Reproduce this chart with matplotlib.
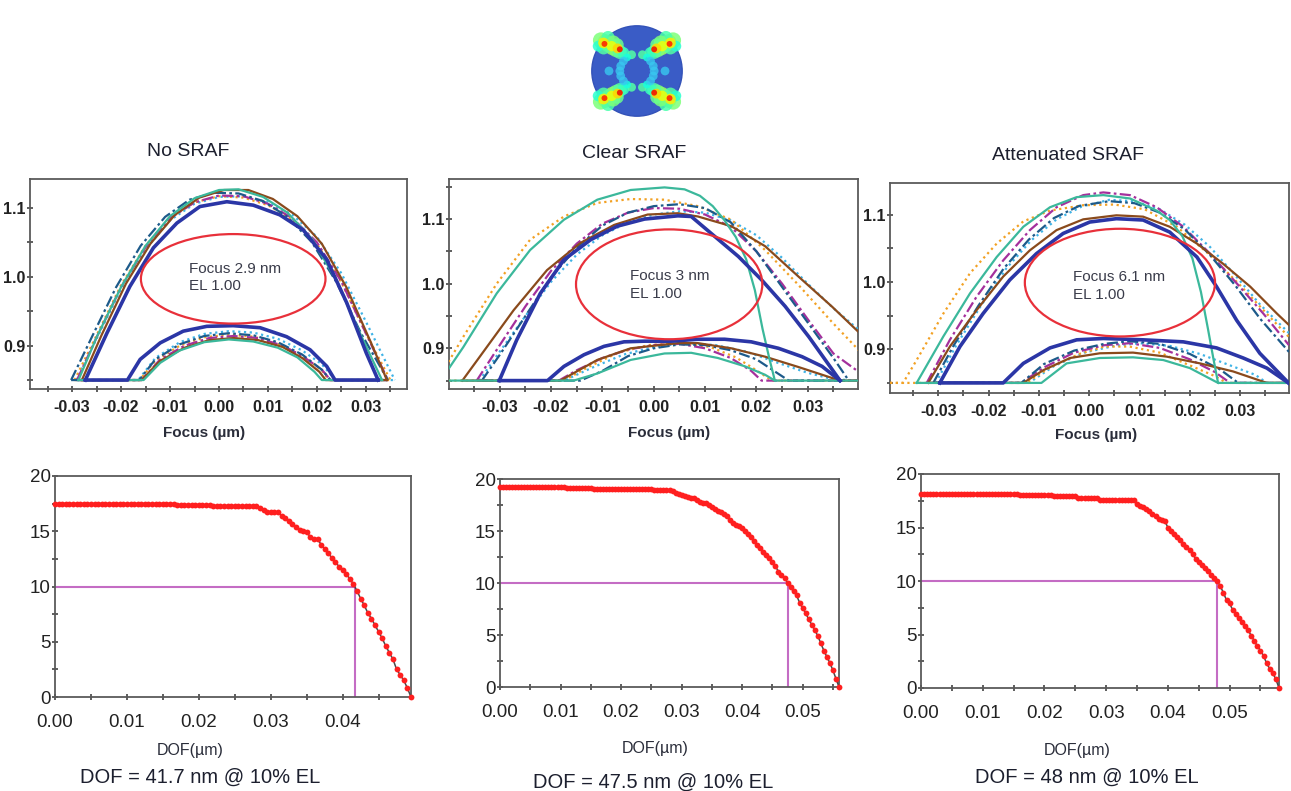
import numpy as np
import matplotlib
matplotlib.use('Agg')
import matplotlib.pyplot as plt
from matplotlib.patches import Ellipse, Circle
from matplotlib.ticker import MultipleLocator, FormatStrFormatter

plt.rcParams['font.family'] = ['Liberation Sans', 'DejaVu Sans']

# Process-window edges, (focus um, dose) pairs. "up" = upper dose edge, "lo" = lower edge
# (lower edge carries the flat 0.85 floor segments too)

# --- No SRAF ---
ns_blue_up = [(-0.0273, 0.85), (-0.0229, 0.918), (-0.0182, 0.986), (-0.0134, 1.042), (-0.0086, 1.078), (-0.0039, 1.102), (0.0016, 1.109), (0.0070, 1.104), (0.0124, 1.090), (0.0172, 1.068), (0.0220, 1.025), (0.0261, 0.962), (0.0301, 0.889), (0.0325, 0.85)]
ns_blue_lo = [(-0.0273, 0.85), (-0.0187, 0.85), (-0.0161, 0.880), (-0.0120, 0.904), (-0.0073, 0.921), (-0.0025, 0.928), (0.0029, 0.929), (0.0084, 0.926), (0.0138, 0.913), (0.0186, 0.894), (0.0220, 0.870), (0.0237, 0.85), (0.0325, 0.85)]
ns_teal_up = [(-0.0287, 0.85), (-0.0250, 0.912), (-0.0200, 0.985), (-0.0150, 1.045), (-0.0100, 1.088), (-0.0050, 1.114), (0.0000, 1.126), (0.0040, 1.127), (0.0090, 1.116), (0.0140, 1.093), (0.0190, 1.055), (0.0240, 0.995), (0.0290, 0.915), (0.0333, 0.85)]
ns_teal_lo = [(-0.0287, 0.85), (-0.0154, 0.85), (-0.0120, 0.875), (-0.0080, 0.893), (-0.0030, 0.905), (0.0020, 0.909), (0.0070, 0.906), (0.0120, 0.897), (0.0160, 0.883), (0.0195, 0.862), (0.0210, 0.85), (0.0333, 0.85)]
ns_brown_up = [(-0.0280, 0.85), (-0.0240, 0.915), (-0.0190, 0.990), (-0.0140, 1.048), (-0.0090, 1.090), (-0.0040, 1.115), (0.0010, 1.126), (0.0060, 1.126), (0.0110, 1.113), (0.0160, 1.088), (0.0210, 1.048), (0.0260, 0.985), (0.0310, 0.905), (0.0343, 0.85)]
ns_brown_lo = [(-0.0280, 0.85), (-0.0158, 0.85), (-0.0120, 0.878), (-0.0070, 0.897), (-0.0020, 0.908), (0.0030, 0.911), (0.0080, 0.908), (0.0130, 0.898), (0.0170, 0.882), (0.0205, 0.862), (0.0218, 0.85), (0.0343, 0.85)]
ns_navy_up = [(-0.0302, 0.85), (-0.0260, 0.912), (-0.0210, 0.985), (-0.0160, 1.045), (-0.0110, 1.087), (-0.0060, 1.112), (-0.0010, 1.122), (0.0040, 1.121), (0.0090, 1.110), (0.0140, 1.087), (0.0190, 1.050), (0.0240, 0.992), (0.0290, 0.918), (0.0345, 0.85)]
ns_navy_lo = [(-0.0302, 0.85), (-0.0163, 0.85), (-0.0130, 0.880), (-0.0080, 0.902), (-0.0030, 0.914), (0.0020, 0.918), (0.0070, 0.915), (0.0120, 0.905), (0.0170, 0.887), (0.0210, 0.865), (0.0228, 0.85), (0.0345, 0.85)]
ns_orange_up = [(-0.0295, 0.85), (-0.0250, 0.915), (-0.0200, 0.988), (-0.0150, 1.045), (-0.0100, 1.086), (-0.0050, 1.108), (0.0000, 1.117), (0.0050, 1.115), (0.0100, 1.104), (0.0150, 1.083), (0.0200, 1.048), (0.0250, 0.992), (0.0300, 0.918), (0.0350, 0.85)]
ns_orange_lo = [(-0.0295, 0.85), (-0.0162, 0.85), (-0.0130, 0.878), (-0.0080, 0.900), (-0.0030, 0.912), (0.0020, 0.916), (0.0070, 0.913), (0.0120, 0.903), (0.0170, 0.885), (0.0210, 0.864), (0.0225, 0.85), (0.0350, 0.85)]
ns_magenta_up = [(-0.0290, 0.85), (-0.0250, 0.912), (-0.0200, 0.985), (-0.0150, 1.043), (-0.0100, 1.085), (-0.0050, 1.108), (0.0000, 1.118), (0.0050, 1.117), (0.0100, 1.106), (0.0150, 1.085), (0.0200, 1.050), (0.0250, 0.993), (0.0300, 0.918), (0.0345, 0.85)]
ns_magenta_lo = [(-0.0290, 0.85), (-0.0158, 0.85), (-0.0120, 0.880), (-0.0070, 0.900), (-0.0020, 0.911), (0.0030, 0.914), (0.0080, 0.911), (0.0130, 0.900), (0.0170, 0.885), (0.0210, 0.865), (0.0228, 0.85), (0.0345, 0.85)]
ns_lblue_up = [(-0.0292, 0.85), (-0.0250, 0.910), (-0.0200, 0.982), (-0.0150, 1.040), (-0.0100, 1.082), (-0.0050, 1.106), (0.0000, 1.116), (0.0050, 1.117), (0.0100, 1.108), (0.0150, 1.090), (0.0200, 1.058), (0.0250, 1.005), (0.0300, 0.935), (0.0359, 0.85)]
ns_lblue_lo = [(-0.0292, 0.85), (-0.0165, 0.85), (-0.0130, 0.882), (-0.0080, 0.905), (-0.0030, 0.917), (0.0020, 0.921), (0.0070, 0.919), (0.0120, 0.910), (0.0170, 0.893), (0.0210, 0.873), (0.0238, 0.85), (0.0359, 0.85)]

# --- Clear SRAF ---
cs_blue_up = [(-0.0301, 0.85), (-0.0267, 0.913), (-0.0221, 0.985), (-0.0175, 1.037), (-0.0123, 1.068), (-0.0071, 1.089), (-0.0018, 1.100), (0.0047, 1.105), (0.0073, 1.104), (0.0119, 1.073), (0.0165, 1.042), (0.0210, 1.006), (0.0256, 0.965), (0.0302, 0.918), (0.0363, 0.85)]
cs_blue_lo = [(-0.0301, 0.85), (-0.0207, 0.85), (-0.0175, 0.872), (-0.0136, 0.890), (-0.0097, 0.903), (-0.0058, 0.910), (-0.0018, 0.911), (0.0034, 0.911), (0.0086, 0.914), (0.0138, 0.914), (0.0190, 0.910), (0.0243, 0.900), (0.0289, 0.887), (0.0328, 0.872), (0.0363, 0.85)]
cs_teal_up = [(-0.0400, 0.868), (-0.0371, 0.902), (-0.0306, 0.985), (-0.0241, 1.052), (-0.0175, 1.099), (-0.0110, 1.130), (-0.0045, 1.145), (0.0021, 1.149), (0.0060, 1.146), (0.0090, 1.136), (0.0115, 1.120), (0.0138, 1.098), (0.0160, 1.072), (0.0180, 1.038), (0.0197, 0.990), (0.0212, 0.930), (0.0225, 0.885), (0.0236, 0.85), (0.0402, 0.85)]
cs_teal_lo = [(-0.0400, 0.85), (-0.0156, 0.85), (-0.0110, 0.861), (-0.0045, 0.882), (0.0021, 0.892), (0.0073, 0.893), (0.0125, 0.885), (0.0178, 0.872), (0.0217, 0.859), (0.0236, 0.85)]
cs_brown_up = [(-0.0373, 0.85), (-0.0339, 0.887), (-0.0273, 0.959), (-0.0208, 1.021), (-0.0143, 1.063), (-0.0077, 1.091), (-0.0012, 1.107), (0.0047, 1.109), (0.0086, 1.104), (0.0151, 1.089), (0.0217, 1.058), (0.0282, 1.011), (0.0348, 0.964), (0.0402, 0.923)]
cs_brown_lo = [(-0.0373, 0.85), (-0.0182, 0.85), (-0.0110, 0.882), (-0.0045, 0.900), (0.0047, 0.908), (0.0086, 0.908), (0.0151, 0.900), (0.0217, 0.887), (0.0282, 0.871), (0.0363, 0.85), (0.0402, 0.85)]
cs_navy_up = [(-0.0335, 0.85), (-0.0300, 0.890), (-0.0250, 0.950), (-0.0200, 1.010), (-0.0150, 1.056), (-0.0100, 1.090), (-0.0050, 1.110), (0.0000, 1.120), (0.0050, 1.123), (0.0100, 1.117), (0.0150, 1.095), (0.0200, 1.050), (0.0250, 0.995), (0.0300, 0.940), (0.0350, 0.885), (0.0380, 0.85)]
cs_navy_lo = [(-0.0335, 0.85), (-0.0143, 0.85), (-0.0100, 0.865), (-0.0050, 0.888), (0.0000, 0.900), (0.0050, 0.906), (0.0100, 0.905), (0.0150, 0.897), (0.0200, 0.883), (0.0240, 0.862), (0.0263, 0.85), (0.0380, 0.85)]
cs_orange_up = [(-0.0400, 0.879), (-0.0371, 0.918), (-0.0306, 1.000), (-0.0241, 1.068), (-0.0175, 1.104), (-0.0110, 1.125), (-0.0045, 1.131), (0.0021, 1.130), (0.0086, 1.120), (0.0151, 1.099), (0.0217, 1.052), (0.0282, 0.998), (0.0348, 0.940), (0.0402, 0.895)]
cs_orange_lo = [(-0.0400, 0.85), (-0.0175, 0.85), (-0.0130, 0.870), (-0.0070, 0.893), (-0.0010, 0.905), (0.0050, 0.908), (0.0110, 0.902), (0.0160, 0.886), (0.0200, 0.866), (0.0230, 0.85), (0.0402, 0.85)]
cs_magenta_up = [(-0.0345, 0.85), (-0.0300, 0.905), (-0.0250, 0.965), (-0.0200, 1.020), (-0.0150, 1.062), (-0.0100, 1.093), (-0.0050, 1.110), (0.0000, 1.117), (0.0050, 1.116), (0.0100, 1.107), (0.0150, 1.088), (0.0200, 1.050), (0.0250, 1.000), (0.0300, 0.945), (0.0350, 0.892), (0.0402, 0.862)]
cs_magenta_lo = [(-0.0345, 0.85), (-0.0185, 0.85), (-0.0150, 0.866), (-0.0100, 0.885), (-0.0050, 0.898), (0.0000, 0.905), (0.0050, 0.907), (0.0100, 0.900), (0.0150, 0.885), (0.0190, 0.865), (0.0210, 0.85), (0.0402, 0.85)]
cs_lblue_up = [(-0.0340, 0.85), (-0.0300, 0.895), (-0.0250, 0.950), (-0.0200, 1.003), (-0.0150, 1.045), (-0.0100, 1.075), (-0.0050, 1.095), (0.0000, 1.107), (0.0050, 1.112), (0.0100, 1.110), (0.0150, 1.098), (0.0200, 1.075), (0.0250, 1.040), (0.0300, 1.000), (0.0350, 0.962), (0.0402, 0.927)]
cs_lblue_lo = [(-0.0340, 0.85), (-0.0175, 0.85), (-0.0120, 0.870), (-0.0060, 0.890), (0.0000, 0.902), (0.0060, 0.908), (0.0120, 0.905), (0.0180, 0.895), (0.0240, 0.878), (0.0300, 0.862), (0.0350, 0.852), (0.0402, 0.85)]

# --- Attenuated SRAF ---
at_blue_up = [(-0.0297, 0.85), (-0.0257, 0.904), (-0.0211, 0.953), (-0.0158, 1.003), (-0.0105, 1.042), (-0.0052, 1.072), (0.0001, 1.089), (0.0054, 1.094), (0.0107, 1.092), (0.0160, 1.074), (0.0214, 1.037), (0.0253, 0.993), (0.0293, 0.943), (0.0339, 0.894), (0.0396, 0.85)]
at_blue_lo = [(-0.0297, 0.85), (-0.0171, 0.85), (-0.0131, 0.879), (-0.0078, 0.902), (-0.0025, 0.914), (0.0028, 0.916), (0.0107, 0.914), (0.0187, 0.911), (0.0253, 0.902), (0.0306, 0.887), (0.0353, 0.872), (0.0396, 0.85)]
at_teal_up = [(-0.0343, 0.85), (-0.0290, 0.919), (-0.0237, 0.983), (-0.0184, 1.037), (-0.0131, 1.082), (-0.0078, 1.111), (-0.0025, 1.126), (0.0028, 1.129), (0.0081, 1.124), (0.0134, 1.106), (0.0160, 1.092), (0.0185, 1.068), (0.0205, 1.035), (0.0222, 0.985), (0.0236, 0.930), (0.0247, 0.885), (0.0256, 0.85), (0.0397, 0.85)]
at_teal_lo = [(-0.0343, 0.85), (-0.0095, 0.85), (-0.0045, 0.879), (0.0021, 0.887), (0.0087, 0.888), (0.0147, 0.884), (0.0200, 0.872), (0.0256, 0.85)]
at_brown_up = [(-0.0320, 0.85), (-0.0277, 0.904), (-0.0224, 0.958), (-0.0171, 1.008), (-0.0118, 1.047), (-0.0065, 1.077), (-0.0012, 1.093), (0.0054, 1.099), (0.0107, 1.097), (0.0160, 1.082), (0.0214, 1.057), (0.0266, 1.027), (0.0320, 0.993), (0.0373, 0.953), (0.0397, 0.936)]
at_brown_lo = [(-0.0320, 0.85), (-0.0131, 0.85), (-0.0091, 0.869), (-0.0038, 0.887), (0.0021, 0.894), (0.0087, 0.895), (0.0154, 0.889), (0.0220, 0.879), (0.0286, 0.867), (0.0353, 0.85), (0.0397, 0.85)]
at_navy_up = [(-0.0310, 0.85), (-0.0270, 0.905), (-0.0220, 0.965), (-0.0170, 1.020), (-0.0120, 1.063), (-0.0070, 1.095), (-0.0020, 1.113), (0.0040, 1.120), (0.0090, 1.117), (0.0140, 1.103), (0.0190, 1.078), (0.0240, 1.040), (0.0290, 0.995), (0.0340, 0.945), (0.0397, 0.896)]
at_navy_lo = [(-0.0310, 0.85), (-0.0135, 0.85), (-0.0090, 0.878), (-0.0030, 0.898), (0.0030, 0.908), (0.0080, 0.912), (0.0140, 0.908), (0.0200, 0.893), (0.0260, 0.870), (0.0296, 0.85), (0.0397, 0.85)]
at_orange_up = [(-0.0396, 0.85), (-0.0370, 0.85), (-0.0343, 0.884), (-0.0290, 0.953), (-0.0237, 1.013), (-0.0184, 1.057), (-0.0131, 1.090), (-0.0078, 1.106), (-0.0012, 1.114), (0.0050, 1.115), (0.0110, 1.108), (0.0174, 1.082), (0.0240, 1.040), (0.0300, 0.995), (0.0350, 0.955), (0.0397, 0.918)]
at_orange_lo = [(-0.0396, 0.85), (-0.0125, 0.85), (-0.0080, 0.872), (-0.0020, 0.893), (0.0030, 0.904), (0.0080, 0.904), (0.0140, 0.895), (0.0200, 0.876), (0.0250, 0.860), (0.0273, 0.85), (0.0397, 0.85)]
at_magenta_up = [(-0.0323, 0.85), (-0.0277, 0.914), (-0.0224, 0.978), (-0.0171, 1.032), (-0.0118, 1.077), (-0.0065, 1.111), (-0.0012, 1.129), (0.0028, 1.133), (0.0081, 1.129), (0.0134, 1.111), (0.0187, 1.082), (0.0240, 1.042), (0.0293, 0.998), (0.0346, 0.953), (0.0397, 0.906)]
at_magenta_lo = [(-0.0323, 0.85), (-0.0135, 0.85), (-0.0090, 0.873), (-0.0030, 0.895), (0.0030, 0.906), (0.0080, 0.909), (0.0140, 0.902), (0.0200, 0.885), (0.0250, 0.866), (0.0280, 0.85), (0.0397, 0.85)]
at_lblue_up = [(-0.0305, 0.85), (-0.0265, 0.905), (-0.0215, 0.965), (-0.0165, 1.020), (-0.0115, 1.062), (-0.0065, 1.093), (-0.0015, 1.112), (0.0040, 1.122), (0.0090, 1.120), (0.0140, 1.108), (0.0190, 1.085), (0.0240, 1.052), (0.0290, 1.010), (0.0340, 0.966), (0.0397, 0.924)]
at_lblue_lo = [(-0.0305, 0.85), (-0.0120, 0.85), (-0.0070, 0.875), (-0.0010, 0.895), (0.0050, 0.905), (0.0100, 0.909), (0.0160, 0.905), (0.0220, 0.893), (0.0280, 0.876), (0.0330, 0.862), (0.0353, 0.85), (0.0397, 0.85)]

titles = ['No SRAF', 'Clear SRAF', 'Attenuated SRAF']
best_focus_nm = [2.9, 3, 6.1]
best_el = ['1.00', '1.00', '1.00']
ellipse_w = [0.0377, 0.0363, 0.0378]
ellipse_h = [0.130, 0.170, 0.160]
ellipse_y = [0.997, 0.999, 0.999]

# DOF vs exposure latitude (%), sampled every 0.5 nm of DOF
dof_step_um = 0.0005
ns_el = [17.5] * 34 + [17.4] * 10 + [17.3] * 13 + [
    17.1, 16.9, 16.7, 16.7, 16.7, 16.7, 16.4, 16.2, 15.9, 15.7, 15.4, 15.1, 15.0, 14.9, 14.5,
    14.3, 14.3, 13.8, 13.4, 13.0, 12.6, 12.2, 11.8, 11.5, 11.1, 10.7, 10.2, 9.6, 8.9, 8.3,
    7.6, 7.1, 6.5, 5.9, 5.3, 4.6, 4.0, 3.4, 2.5, 2.0, 1.5, 0.8, 0.0]
cs_el = [19.2] * 22 + [19.1] * 9 + [19.0] * 20 + [18.9] * 6 + [
    18.8, 18.7, 18.6, 18.5, 18.4, 18.3, 18.2, 18.2, 18.0, 17.8, 17.7, 17.7, 17.5, 17.3, 17.1,
    16.9, 16.8, 16.6, 16.4, 16.1, 15.8, 15.6, 15.5, 15.3, 15.0, 14.7, 14.4, 14.0, 13.7, 13.4,
    13.0, 12.7, 12.4, 12.0, 11.6, 11.1, 10.8, 10.5, 10.0, 9.6, 9.2, 8.8, 8.1, 7.6, 7.1,
    6.5, 6.0, 5.5, 4.9, 4.2, 3.5, 2.9, 2.3, 1.6, 0.8, 0.0]
at_el = [18.1] * 32 + [18.0] * 11 + [17.9] * 8 + [17.8] * 7 + [17.6] * 12 + [
    17.2, 17.0, 16.9, 16.7, 16.5, 16.3, 16.1, 15.8, 15.7, 15.6, 15.0, 14.7, 14.4, 14.1, 13.8,
    13.5, 13.2, 12.9, 12.5, 12.1, 11.8, 11.5, 11.2, 10.9, 10.6, 10.3, 10.0, 9.5, 8.9, 8.2,
    7.9, 7.3, 6.9, 6.5, 6.2, 5.8, 5.4, 4.9, 4.4, 3.9, 3.5, 3.0, 2.3, 1.8, 1.4, 0.8, 0.0]
dof_at_10_nm = [41.7, 47.5, 48]

# pupil illumination icon: one pole cluster (upper left), mirrored to the others
pole_x = [-0.80, -0.70, -0.62, -0.54, -0.46, -0.38, -0.74, -0.64, -0.52, -0.44, -0.30, -0.86,
          -0.74, -0.56, -0.43, -0.72, -0.38, -0.12, -0.22]
pole_y = [0.68, 0.64, 0.58, 0.52, 0.47, 0.42, 0.52, 0.74, 0.64, 0.58, 0.40, 0.55,
          0.62, 0.55, 0.50, 0.60, 0.48, 0.36, 0.30]
pole_lvl = [0.50, 0.52, 0.48, 0.55, 0.50, 0.46, 0.45, 0.44, 0.50, 0.48, 0.42, 0.40,
            0.66, 0.64, 0.68, 0.88, 0.90, 0.45, 0.38]
pole_size = [130, 130, 130, 125, 115, 100, 100, 90, 90, 90, 70, 60,
             60, 55, 50, 18, 18, 40, 32]
arc_x = [-0.30, -0.36, -0.38, -0.36, -0.30, -0.62]
arc_y = [0.22, 0.11, 0.0, -0.11, -0.22, 0.0]

styles = {
    'lblue': dict(color='#3fb3e6', lw=1.6, ls=(0, (1, 1.6))),
    'orange': dict(color='#f2a124', lw=1.6, ls=(0, (1, 1.6))),
    'magenta': dict(color='#a4309c', lw=1.6, ls=(0, (5, 1.5, 1.2, 1.5))),
    'navy': dict(color='#1d5a8a', lw=1.6, ls=(0, (5, 1.5, 1.2, 1.5))),
    'brown': dict(color='#8a4a1c', lw=1.6, ls='-'),
    'teal': dict(color='#3bb89b', lw=1.6, ls='-'),
    'blue': dict(color='#2b36a6', lw=2.6, ls='-'),
}
windows = [
    {'lblue': (ns_lblue_up, ns_lblue_lo), 'orange': (ns_orange_up, ns_orange_lo),
     'magenta': (ns_magenta_up, ns_magenta_lo), 'navy': (ns_navy_up, ns_navy_lo),
     'brown': (ns_brown_up, ns_brown_lo), 'teal': (ns_teal_up, ns_teal_lo),
     'blue': (ns_blue_up, ns_blue_lo)},
    {'lblue': (cs_lblue_up, cs_lblue_lo), 'orange': (cs_orange_up, cs_orange_lo),
     'magenta': (cs_magenta_up, cs_magenta_lo), 'navy': (cs_navy_up, cs_navy_lo),
     'brown': (cs_brown_up, cs_brown_lo), 'teal': (cs_teal_up, cs_teal_lo),
     'blue': (cs_blue_up, cs_blue_lo)},
    {'lblue': (at_lblue_up, at_lblue_lo), 'orange': (at_orange_up, at_orange_lo),
     'magenta': (at_magenta_up, at_magenta_lo), 'navy': (at_navy_up, at_navy_lo),
     'brown': (at_brown_up, at_brown_lo), 'teal': (at_teal_up, at_teal_lo),
     'blue': (at_blue_up, at_blue_lo)},
]
el_curves = [ns_el, cs_el, at_el]

W, H = 1291, 791
fig = plt.figure(figsize=(W / 100, H / 100), dpi=100)
fig.patch.set_facecolor('white')


def px_axes(l, t, r, b):
    return fig.add_axes([l / W, 1 - b / H, (r - l) / W, (b - t) / H])


top_boxes = [(30, 179, 407, 389), (449, 179, 858, 389), (890, 183, 1289, 393)]
top_xlim = [(-0.0386, 0.0384), (-0.0399, 0.0398), (-0.0396, 0.0397)]
top_ylim = [(0.837, 1.142), (0.837, 1.162), (0.835, 1.147)]
text_x = [-0.0061, -0.0046, -0.0032]
text_y = [0.999, 0.998, 0.994]
title_pos = [(188, 152), (634, 153), (1068, 155)]
focus_lbl_pos = [(204, 433), (669, 433), (1096, 435)]

bot_boxes = [(55, 476, 411, 697), (500, 479, 839, 687), (921, 474, 1279, 688)]
bot_xmax = [0.0495, 0.056, 0.058]
dof_lbl_pos = [(190, 750), (655, 748), (1077, 750)]
caption_pos = [(200, 777), (653, 782), (1087, 777)]

frame_col = '#5a5a5a'
text_col = '#1c1f2e'


def style_frame(ax):
    for s in ax.spines.values():
        s.set_color(frame_col)
        s.set_linewidth(1.3)


for i in range(3):
    # ---------- process window panel ----------
    ax = px_axes(*top_boxes[i])
    for name in ['lblue', 'orange', 'magenta', 'navy', 'brown', 'teal', 'blue']:
        up, lo = windows[i][name]
        st = styles[name]
        z = 4 if name == 'blue' else 3
        for edge in (up, lo):
            f, d = np.array(edge).T
            ax.plot(f, d, color=st['color'], lw=st['lw'], ls=st['ls'], zorder=z,
                    solid_joinstyle='round')
    ax.add_patch(Ellipse((best_focus_nm[i] / 1000, ellipse_y[i]), ellipse_w[i], ellipse_h[i],
                         fill=False, ec='#e8303a', lw=1.6, zorder=5))
    ax.text(text_x[i], text_y[i], f'Focus {best_focus_nm[i]} nm\nEL {best_el[i]}',
            ha='left', va='center', fontsize=11, color='#3a3c4a', linespacing=1.3, zorder=6)
    ax.set_xlim(*top_xlim[i])
    ax.set_ylim(*top_ylim[i])
    ax.xaxis.set_major_locator(MultipleLocator(0.01))
    ax.xaxis.set_minor_locator(MultipleLocator(0.005))
    ax.xaxis.set_major_formatter(FormatStrFormatter('%.2f'))
    ax.yaxis.set_major_locator(MultipleLocator(0.1))
    ax.yaxis.set_minor_locator(MultipleLocator(0.05))
    ax.yaxis.set_major_formatter(FormatStrFormatter('%.1f'))
    ax.tick_params(which='both', direction='inout', length=4, width=1.1, color='#333')
    ax.tick_params(axis='x', pad=6, labelsize=11.5)
    ax.tick_params(axis='y', pad=1, labelsize=11.5)
    for lab in ax.get_xticklabels() + ax.get_yticklabels():
        lab.set_fontweight('bold')
        lab.set_color('#222')
    style_frame(ax)
    fig.text(title_pos[i][0] / W, 1 - title_pos[i][1] / H, titles[i], ha='center', va='center',
             fontsize=14, color=text_col)
    fig.text(focus_lbl_pos[i][0] / W, 1 - focus_lbl_pos[i][1] / H, 'Focus (µm)', ha='center',
             va='center', fontsize=11, fontweight='bold', color='#2a2d3a')

    # ---------- DOF vs EL panel ----------
    bx = px_axes(*bot_boxes[i])
    el = np.array(el_curves[i])
    dof = np.arange(len(el)) * dof_step_um
    bx.plot(dof, el, color='#4a4a4a', lw=1.1, zorder=3, clip_on=False)
    bx.plot(dof, el, ls='none', marker='o', ms=4.2, mfc='#ff1f1f', mec='none', zorder=4,
            clip_on=False)
    d10 = dof_at_10_nm[i] / 1000
    bx.plot([0, d10], [10, 10], color='#c46cc4', lw=1.5, zorder=2)
    bx.plot([d10, d10], [0, 10], color='#c46cc4', lw=1.5, zorder=2)
    bx.set_xlim(0, bot_xmax[i])
    bx.set_ylim(0, 20)
    bx.xaxis.set_major_locator(MultipleLocator(0.01))
    bx.xaxis.set_minor_locator(MultipleLocator(0.005))
    bx.xaxis.set_major_formatter(FormatStrFormatter('%.2f'))
    bx.yaxis.set_major_locator(MultipleLocator(5))
    bx.yaxis.set_minor_locator(MultipleLocator(2.5))
    bx.tick_params(which='both', direction='inout', length=4, width=1.1, color='#333')
    bx.tick_params(axis='x', pad=10, labelsize=13.5, labelcolor='#222')
    bx.tick_params(axis='y', pad=1, labelsize=13.5, labelcolor='#222')
    style_frame(bx)
    fig.text(dof_lbl_pos[i][0] / W, 1 - dof_lbl_pos[i][1] / H, 'DOF(µm)', ha='center',
             va='center', fontsize=11.5, color='#2a2d3a')
    fig.text(caption_pos[i][0] / W, 1 - caption_pos[i][1] / H,
             f'DOF = {dof_at_10_nm[i]} nm @ 10% EL', ha='center', va='center',
             fontsize=14.5, color=text_col)

# ---------- pupil icon ----------
ix = px_axes(590, 24, 684, 118)
ix.set_xlim(-1.04, 1.04)
ix.set_ylim(-1.04, 1.04)
ix.set_aspect('equal')
ix.axis('off')
ix.add_patch(Circle((0, 0), 1.0, fc='#3a5cc6', ec='#3352b8', lw=1))
px_, py_ = np.array(pole_x), np.array(pole_y)
for sx in (1, -1):
    for sy in (1, -1):
        ix.scatter(sx * px_, sy * py_, c=pole_lvl, s=pole_size, cmap='jet', vmin=0, vmax=1,
                   edgecolors='none', alpha=0.85, zorder=3)
    ix.scatter(sx * np.array(arc_x), arc_y, c=['#38c8f0'] * len(arc_x), s=40,
               edgecolors='none', alpha=0.8, zorder=3)

fig.savefig('out.png', dpi=100, facecolor='white')
